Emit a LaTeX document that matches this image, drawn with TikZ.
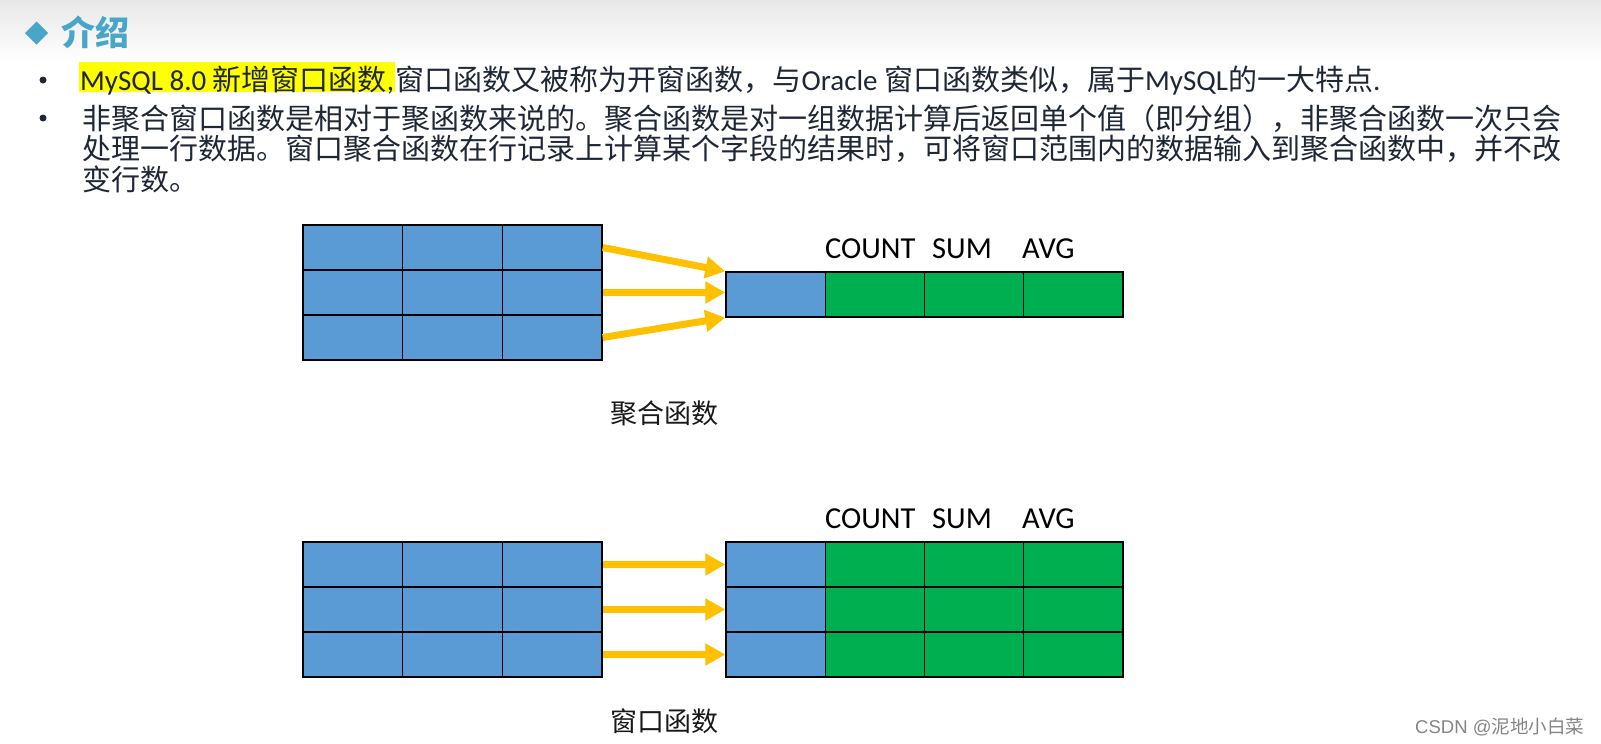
\documentclass[tikz,border=0pt]{standalone}
\usepackage{fontspec}
\setmainfont{Noto Sans CJK SC}
\newfontfamily\cjkfont{Noto Sans CJK SC}
\newfontfamily\calfont{Carlito}
\newfontfamily\libfont{Liberation Sans}
\newcommand\latn[1]{{\calfont #1}}
\usetikzlibrary{arrows.meta}
\definecolor{cellblue}{HTML}{5B9BD5}
\definecolor{cellgreen}{HTML}{00B050}
\definecolor{arrowgold}{HTML}{FFC000}
\definecolor{titleteal}{HTML}{4AA6C9}
\definecolor{bodytext}{HTML}{1F2636}
\definecolor{hlyellow}{HTML}{FFFF00}
\begin{document}
\begin{tikzpicture}[x=1pt,y=-1pt,
  txt/.style={anchor=base west, inner sep=0pt, text=bodytext, font=\cjkfont\fontsize{29}{29}\selectfont},
  cell/.style={draw=black, line width=1.3pt, minimum width=99.67pt, minimum height=45pt, inner sep=0pt},
  rcell/.style={cell, minimum width=99.25pt},
  lbl/.style={anchor=base west, inner sep=0pt, text=black, font=\calfont\fontsize{30.5}{30.5}\selectfont},
  capt/.style={inner sep=0pt, text=black!90, font=\cjkfont\fontsize{27}{27}\selectfont},
  goldarrow/.style={draw=arrowgold, line width=7pt, -{Triangle[length=20pt,width=21pt]}},
  bulletdot/.style={circle, fill=bodytext, inner sep=0pt, minimum size=7pt}]
\path[use as bounding box] (0,0) rectangle (1601,744);
\fill[white] (0,0) rectangle (1601,744);
\shade[top color=black!9, bottom color=white] (0,0) rectangle (1601,62);

% header
\fill[titleteal] (25,33) -- (36.5,21.5) -- (48,33) -- (36.5,44.5) -- cycle;
\node (title) [anchor=base west, inner sep=0pt, text=titleteal, font=\cjkfont\fontsize{34}{34}\selectfont\bfseries] at (61,45.5) {介绍};

% bullets and text
\node (b1) [bulletdot] at (43,80) {};
\node (b2) [bulletdot] at (43,118) {};
\node (l1a) [txt, fill=hlyellow, text height=28pt, text depth=2pt, inner xsep=1pt] at (79,90) {\latn{MySQL 8.0 }新增窗口函数\latn{,}};
\node (l1b) [txt] at (l1a.base east) {窗口函数又被称为开窗函数，与\latn{Oracle }窗口函数类似，属于\latn{MySQL}的一大特点\latn{.}};
\node (l2) [txt] at (82,129) {非聚合窗口函数是相对于聚函数来说的。聚合函数是对一组数据计算后返回单个值（即分组），非聚合函数一次只会};
\node (l3) [txt] at (82,159.5) {处理一行数据。窗口聚合函数在行记录上计算某个字段的结果时，可将窗口范围内的数据输入到聚合函数中，并不改};
\node (l4) [txt] at (82,190) {变行数。};

% top diagram
\foreach \r in {1,2,3} {
  \foreach \c in {1,2,3} {
    \node[cell, fill=cellblue] (A\r\c) at ({303+99.67*(\c-0.5)}, {225+45*(\r-0.5)}) {};
  }
}
\node[rcell, fill=cellblue] (B0) at ({726+99.25*0.5}, 294.5) {};
\foreach \k in {1,2,3} {
  \node[rcell, fill=cellgreen] (B\k) at ({726+99.25*(\k+0.5)}, 294.5) {};
}
\node (cnt1) [lbl] at (825,258) {COUNT};
\node (sum1) [lbl] at (932,258) {SUM};
\node (avg1) [lbl] at (1022,258) {AVG};
\draw[goldarrow] (A13.east) -- (B0.north west);
\draw[goldarrow] (A23.east) -- (A23.east -| B0.west);
\draw[goldarrow] (A33.east) -- (B0.south west);
\node (cap1) [capt] at (664,413) {聚合函数};

% bottom diagram
\foreach \r in {1,2,3} {
  \foreach \c in {1,2,3} {
    \node[cell, fill=cellblue] (C\r\c) at ({303+99.67*(\c-0.5)}, {542+45*(\r-0.5)}) {};
  }
  \node[rcell, fill=cellblue] (D\r0) at ({726+99.25*0.5}, {542+45*(\r-0.5)}) {};
  \foreach \k in {1,2,3} {
    \node[rcell, fill=cellgreen] (D\r\k) at ({726+99.25*(\k+0.5)}, {542+45*(\r-0.5)}) {};
  }
}
\foreach \r in {1,2,3} {
  \draw[goldarrow] (C\r3.east) -- (D\r0.west);
}
\node (cnt2) [lbl] at (825,528) {COUNT};
\node (sum2) [lbl] at (932,528) {SUM};
\node (avg2) [lbl] at (1022,528) {AVG};
\node (cap2) [capt] at (664,721) {窗口函数};

% watermark
\node (wm) [anchor=base west, inner sep=0pt, text=black!48, font=\fontsize{18.5}{18.5}\selectfont] at (1415,733) {\libfont CSDN @\cjkfont 泥地小白菜};
\end{tikzpicture}
\end{document}
